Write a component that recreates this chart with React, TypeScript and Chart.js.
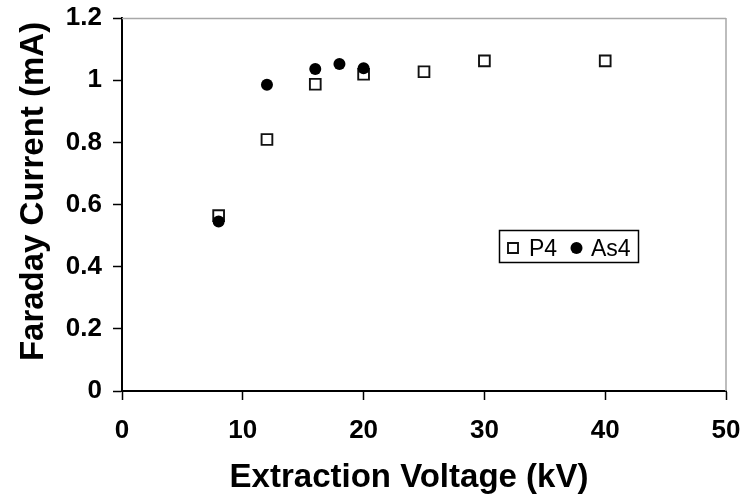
import React, { useEffect, useRef } from "react";
import { Chart, registerables } from "chart.js";

Chart.register(...registerables);

// ---- data ----
const xTickValues = [0, 10, 20, 30, 40, 50];
const yTickValues = [0, 0.2, 0.4, 0.6, 0.8, 1, 1.2];
const seriesNames = ["P4", "As4"];
const p4Voltage = [8, 12, 16, 20, 25, 30, 40];
const p4Current = [0.564, 0.809, 0.987, 1.019, 1.027, 1.062, 1.062];
const as4Voltage = [8, 12, 16, 18, 20];
const as4Current = [0.545, 0.985, 1.036, 1.052, 1.038];
const xTitle = "Extraction Voltage (kV)";
const yTitle = "Faraday Current (mA)";

const FONT = '"Liberation Sans", Arial, sans-serif';

const decorPlugin = {
  id: "decor",
  afterDraw(chart: any) {
    const { ctx, chartArea } = chart;
    const { left, right, top, bottom } = chartArea;
    ctx.save();
    // top / right frame
    ctx.strokeStyle = "#a8a8a8";
    ctx.lineWidth = 1.5;
    ctx.beginPath();
    ctx.moveTo(left, top + 0.5);
    ctx.lineTo(right, top + 0.5);
    ctx.moveTo(right, top);
    ctx.lineTo(right, bottom);
    ctx.stroke();

    // axis titles
    ctx.fillStyle = "#000";
    ctx.font = `bold 33px ${FONT}`;
    ctx.textAlign = "center";
    ctx.textBaseline = "alphabetic";
    ctx.fillText(xTitle, (left + right) / 2 - 15, 487);
    ctx.save();
    ctx.translate(43, (top + bottom) / 2 - 13);
    ctx.rotate(-Math.PI / 2);
    ctx.fillText(yTitle, 0, 0);
    ctx.restore();

    // legend
    const bx = 499.5, by = 230.5, bw = 139, bh = 32;
    ctx.strokeStyle = "#000";
    ctx.lineWidth = 1.5;
    ctx.strokeRect(bx, by, bw, bh);
    const cy = by + bh / 2 + 1.5;
    const ds = chart.data.datasets;
    // P4 marker
    ctx.lineWidth = ds[0].borderWidth;
    ctx.strokeStyle = ds[0].borderColor;
    ctx.fillStyle = ds[0].backgroundColor;
    ctx.beginPath();
    ctx.rect(513 - 5, cy - 5, 10, 10);
    ctx.fill();
    ctx.stroke();
    ctx.fillStyle = "#000";
    ctx.font = `23px ${FONT}`;
    ctx.textAlign = "left";
    ctx.textBaseline = "alphabetic";
    ctx.fillText(ds[0].label, 529, 256);
    // As4 marker
    ctx.fillStyle = ds[1].backgroundColor;
    ctx.beginPath();
    ctx.arc(576.5, cy, 6, 0, Math.PI * 2);
    ctx.fill();
    ctx.fillStyle = "#000";
    ctx.fillText(ds[1].label, 591, 256);
    ctx.restore();
  },
};

const zeroPad = (s: any) => {
  s.paddingTop = 0;
  s.paddingBottom = 0;
  s.paddingLeft = 0;
  s.paddingRight = 0;
};

export default function App() {
  const canvasRef = useRef<HTMLCanvasElement | null>(null);

  useEffect(() => {
    document.body.style.margin = "0";
    const canvas = canvasRef.current;
    if (!canvas) return;
    const chart = new Chart(canvas, {
      type: "scatter",
      data: {
        datasets: [
          {
            label: seriesNames[0],
            data: p4Voltage.map((x, i) => ({ x, y: p4Current[i] })),
            pointStyle: "rect",
            pointRadius: 7.6,
            borderWidth: 1.9,
            borderColor: "#111",
            backgroundColor: "#fff",
            order: 2,
          },
          {
            label: seriesNames[1],
            data: as4Voltage.map((x, i) => ({ x, y: as4Current[i] })),
            pointStyle: "circle",
            pointRadius: 6,
            borderWidth: 0,
            borderColor: "#000",
            backgroundColor: "#000",
            order: 1,
          },
        ],
      },
      plugins: [decorPlugin],
      options: {
        responsive: false,
        animation: false,
        devicePixelRatio: 1,
        layout: { padding: { top: 18, right: 23, left: 0, bottom: 0 } },
        plugins: {
          legend: { display: false },
          tooltip: { enabled: false },
          title: { display: false },
        },
        scales: {
          x: {
            type: "linear",
            min: xTickValues[0],
            max: xTickValues[xTickValues.length - 1],
            afterFit: (s: any) => {
              s.height = 105;
              zeroPad(s);
            },
            afterBuildTicks: (s: any) => {
              s.ticks = xTickValues.map((v) => ({ value: v }));
            },
            ticks: {
              color: "#000",
              font: { family: FONT, size: 26, weight: "bold" },
              padding: 15,
              maxRotation: 0,
              callback: (v: any) => String(v),
            },
            grid: {
              drawOnChartArea: false,
              drawTicks: true,
              tickLength: 9,
              tickColor: "#000",
              tickWidth: 1.5,
            },
            border: { display: true, color: "#000", width: 2 },
          },
          y: {
            type: "linear",
            min: yTickValues[0],
            max: yTickValues[yTickValues.length - 1],
            afterFit: (s: any) => {
              s.width = 122;
              zeroPad(s);
            },
            afterBuildTicks: (s: any) => {
              s.ticks = yTickValues.map((v) => ({ value: v }));
            },
            ticks: {
              color: "#000",
              font: { family: FONT, size: 26, weight: "bold" },
              padding: 11,
              callback: (v: any) => String(Math.round(Number(v) * 10) / 10),
            },
            grid: {
              drawOnChartArea: false,
              drawTicks: true,
              tickLength: 9,
              tickColor: "#000",
              tickWidth: 1.5,
            },
            border: { display: true, color: "#000", width: 2 },
          },
        },
      },
    } as any);
    return () => chart.destroy();
  }, []);

  return (
    <div style={{ width: 749, height: 496, background: "#fff" }}>
      <canvas ref={canvasRef} width={749} height={496} style={{ display: "block" }} />
    </div>
  );
}
